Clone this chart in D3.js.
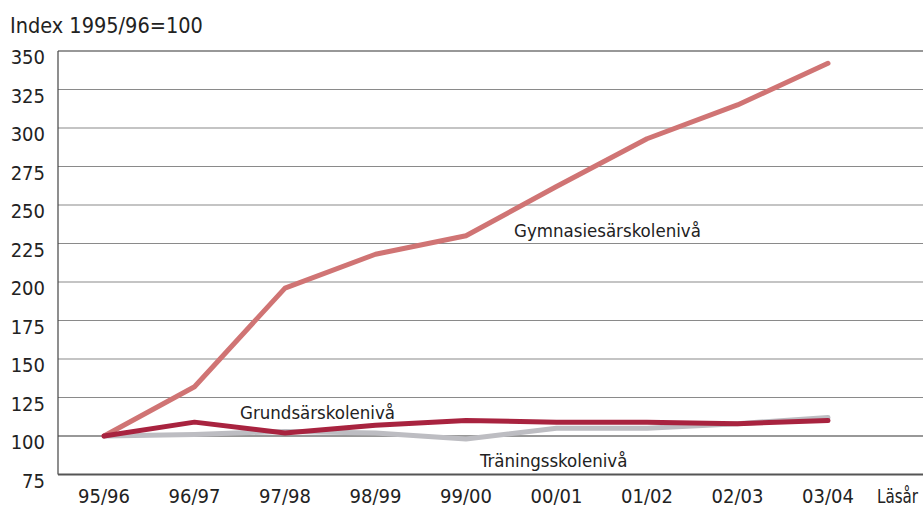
<html>
<head>
<style>
  body { margin: 0; background: #fff; }
  text { font-family: "Liberation Sans Narrow", "DejaVu Sans Condensed", sans-serif; fill: #222; }
</style>
<script src="https://d3js.org/d3.v7.min.js"></script>
</head>
<body>
<script>
// Läsår and index values (1995/96 = 100)
var years = ["95/96","96/97","97/98","98/99","99/00","00/01","01/02","02/03","03/04"];
var gymnasie = [100, 132, 196, 218, 230, 262, 293, 315, 342];
var grundsar = [100, 109, 102, 107, 110, 109, 109, 108, 110];
var traning  = [100, 101, 103, 102, 98, 105, 105, 108, 112];
var yTicks = [75,100,125,150,175,200,225,250,275,300,325,350];

var width = 923, height = 509;
var plotLeft = 58, plotRight = 923, plotTop = 51, plotBottom = 474.5;

var svg = d3.select("body").append("svg")
    .attr("width", width).attr("height", height);

var x = d3.scalePoint().domain(years).range([104, 828]);
var y = d3.scaleLinear().domain([75, 350]).range([plotBottom, plotTop]);

// gridlines
svg.append("g").selectAll("line")
    .data(yTicks.filter(d => d > 75))
    .join("line")
    .attr("x1", plotLeft).attr("x2", plotRight)
    .attr("y1", d => y(d)).attr("y2", d => y(d))
    .attr("stroke", d => (d == 100 || d == 350) ? "#333" : "#8a8a8a")
    .attr("stroke-width", 1.2);

// axes lines
svg.append("line").attr("x1", plotLeft).attr("x2", plotLeft)
    .attr("y1", plotTop).attr("y2", plotBottom)
    .attr("stroke", "#444").attr("stroke-width", 1.2);
svg.append("line").attr("x1", plotLeft).attr("x2", plotRight)
    .attr("y1", plotBottom).attr("y2", plotBottom)
    .attr("stroke", "#555").attr("stroke-width", 2.2);

// y tick labels
svg.append("g").selectAll("text")
    .data(yTicks)
    .join("text")
    .attr("x", 45).attr("y", d => y(d) + 13)
    .attr("text-anchor", "end")
    .style("font-size", "20px")
    .text(d => d);

// x tick labels
svg.append("g").selectAll("text")
    .data(years)
    .join("text")
    .attr("x", d => x(d)).attr("y", 503)
    .attr("text-anchor", "middle")
    .style("font-size", "20px")
    .text(d => d);

svg.append("text").attr("x", 877).attr("y", 503)
    .attr("textLength", 41).attr("lengthAdjust", "spacingAndGlyphs")
    .style("font-size", "19px").text("Läsår");

svg.append("text").attr("x", 10).attr("y", 33)
    .style("font-size", "21.5px").text("Index 1995/96=100");

var line = d3.line()
    .x((d, i) => x(years[i]))
    .y(d => y(d));

var series = [
  {values: traning, color: "#bdbdc2", w: 5},
  {values: gymnasie, color: "#d07474", w: 5},
  {values: grundsar, color: "#a8233f", w: 5}
];

svg.append("g").selectAll("path")
    .data(series)
    .join("path")
    .attr("fill", "none")
    .attr("stroke", d => d.color)
    .attr("stroke-width", d => d.w)
    .attr("stroke-linecap", "round")
    .attr("stroke-linejoin", "round")
    .attr("d", d => line(d.values));

// series labels
svg.append("text").attr("x", 514).attr("y", 237)
    .style("font-size", "18.5px").text("Gymnasiesärskolenivå");
svg.append("text").attr("x", 240).attr("y", 419)
    .style("font-size", "18.5px").text("Grundsärskolenivå");
svg.append("text").attr("x", 480).attr("y", 467)
    .style("font-size", "18.5px").text("Träningsskolenivå");
</script>
</body>
</html>
